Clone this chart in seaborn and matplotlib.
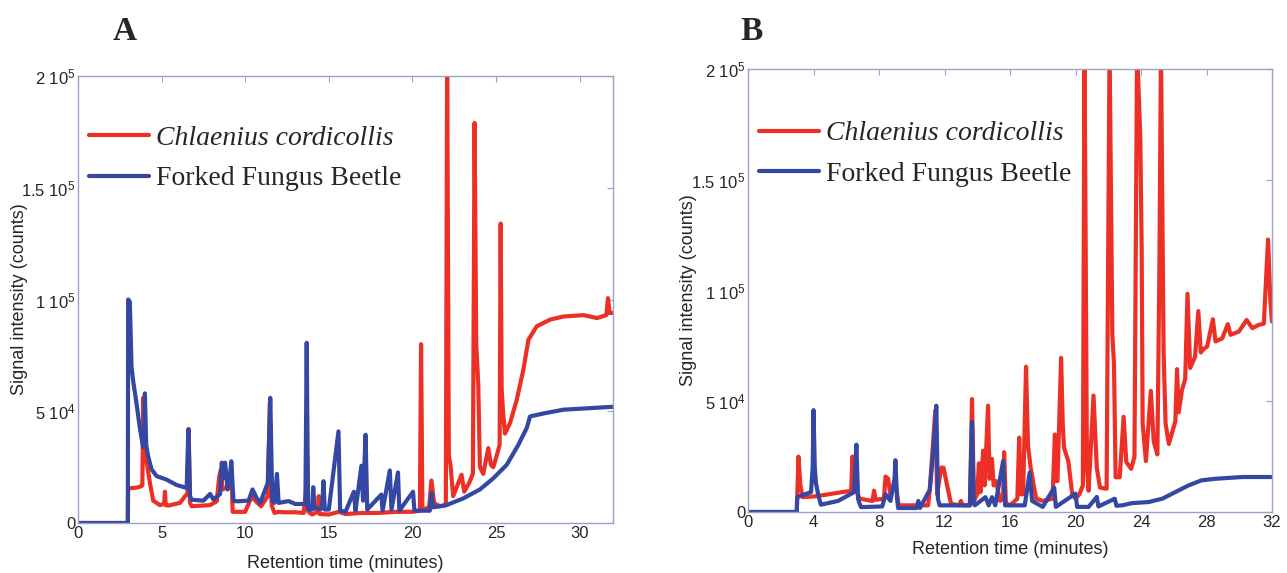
import pandas as pd
import numpy as np
import seaborn as sns
import matplotlib.pyplot as plt

# chromatogram traces (time in minutes, signal in thousands of counts)
a_red_t = [0, 2.98, 3.0, 3.5, 3.8, 3.85, 3.9, 3.95, 4.05, 4.3, 4.5, 4.9, 5.15, 5.2, 5.25, 5.4, 6.1, 6.4, 6.55, 6.62,
           6.7, 6.8, 7.9, 8.3, 8.45, 8.55, 8.65, 8.9, 9.1, 9.17, 9.25, 10.0, 10.1, 10.4, 10.6, 10.95, 11.35, 11.48,
           11.58, 11.75, 12.0, 12.3, 13.0, 13.5, 13.65, 13.7, 13.78, 14.0, 14.35, 14.4, 14.45, 15.0, 15.6, 16.0,
           17.0, 18.0, 19.0, 20.0, 20.45, 20.52, 20.6, 21.0, 21.14, 21.3, 21.64, 22.0, 22.08, 22.18, 22.28, 22.44,
           22.94, 23.1, 23.4, 23.62, 23.72, 23.82, 23.94, 24.04, 24.24, 24.54, 24.7, 24.84, 25.04, 25.22, 25.28,
           25.34, 25.42, 25.54, 25.84, 26.24, 26.64, 26.94, 27.44, 28.24, 29.04, 30.24, 31.04, 31.6, 31.7, 31.8, 32.0]
a_red_y = [0, 0, 15.5, 15.8, 16.5, 17, 56, 35, 30, 18, 10, 8, 8.5, 14, 8, 7.8, 9, 12, 13, 42,
           9, 7.5, 8, 9.7, 21, 24, 15, 16, 20, 25, 5, 5, 6.7, 12, 10, 7.5, 12, 54,
           8, 4.5, 5, 4.8, 4.8, 4.5, 15, 30, 5, 3.8, 5, 12, 4, 3.8, 5, 4,
           4.5, 4.5, 5, 5, 5.5, 80, 6, 7, 19, 9, 7.5, 8, 210, 30, 26, 12,
           21.6, 14, 18, 22, 179, 80, 62, 25, 22, 33.5, 26, 25, 30, 35, 134,
           60, 50, 40, 44.7, 55, 68.6, 82, 88, 91, 92.4, 93, 91.7, 93, 100.6, 94, 94]

a_blue_t = [0, 2.98, 3.0, 3.1, 3.2, 3.29, 3.49, 3.69, 3.89, 3.95, 4.0, 4.08, 4.19, 4.4, 4.7, 5.3, 5.9, 6.5, 6.6,
            6.7, 6.8, 7.5, 7.9, 8.1, 8.5, 8.6, 8.7, 8.8, 8.95, 9.1, 9.17, 9.3, 9.5, 10.2, 10.44, 10.7, 10.9, 11.35,
            11.5, 11.62, 11.75, 11.9, 12.0, 12.6, 13.0, 13.6, 13.68, 13.76, 14.0, 14.07, 14.15, 14.6, 14.68, 14.76,
            15.0, 15.58, 15.68, 16.0, 16.5, 16.6, 16.95, 17.05, 17.2, 17.3, 18.14, 18.22, 18.65, 18.75, 19.14, 19.22,
            20.04, 20.12, 21.04, 21.14, 21.25, 22.04, 23.04, 24.04, 24.84, 25.64, 26.34, 26.84, 27.04, 27.84,
            29.04, 30.64, 32.0]
a_blue_y = [0, 0, 100, 99, 70, 64, 54, 43, 34, 40, 58, 35, 30, 24, 21, 19.4, 17, 15.7, 42,
            12, 10.4, 10, 13, 10.5, 13, 27, 20, 27, 15, 22, 27.6, 10, 9.7, 10, 15, 11, 9, 18,
            56, 10, 9, 22, 9, 9.8, 8.5, 8.5, 80.6, 6, 6, 16, 6.5, 6.5, 18.7, 6,
            6, 41, 5.5, 5, 14, 5.5, 25.6, 10, 39.5, 6, 12.7, 5.5, 23.5, 6, 22.6, 5.5,
            14, 5.5, 5.5, 13.4, 7, 8, 11, 15, 20, 26, 35, 42.5, 47.7, 49,
            50.7, 51.4, 52]

b_red_t = [0, 2.98, 3.02, 3.08, 3.2, 3.34, 4.0, 4.4, 5.77, 6.3, 6.38, 6.48, 6.6, 6.7, 6.82, 7.6, 7.7, 7.8, 8.3,
           8.4, 8.56, 8.7, 9.0, 9.2, 11.0, 11.1, 11.44, 11.55, 11.8, 11.94, 12.16, 12.4, 12.9, 13.0, 13.1, 13.55,
           13.68, 13.8, 14.0, 14.1, 14.2, 14.36, 14.45, 14.66, 14.75, 14.9, 15.0, 15.14, 15.4, 15.58, 15.64, 15.75,
           16.0, 16.45, 16.56, 16.68, 16.8, 16.98, 17.1, 17.26, 17.6, 18.0, 18.6, 18.74, 18.85, 18.9, 19.12, 19.22,
           19.3, 19.56, 19.8, 20.0, 20.24, 20.45, 20.55, 20.7, 20.8, 21.1, 21.3, 21.5, 21.9, 22.08, 22.25, 22.35,
           22.45, 22.7, 22.94, 23.1, 23.4, 23.6, 23.76, 23.96, 24.04, 24.1, 24.3, 24.6, 24.78, 25.0, 25.12, 25.22,
           25.38, 25.5, 25.7, 26.1, 26.2, 26.3, 26.5, 26.7, 26.84, 27.0, 27.3, 27.5, 27.65, 27.8, 28.04, 28.39,
           28.55, 28.96, 29.3, 29.47, 29.98, 30.45, 30.8, 31.2, 31.5, 31.76, 31.9, 32.0]
b_red_y = [0, 0, 10, 25, 12, 6.7, 7, 7.4, 9, 9.5, 25, 13, 20, 8, 6, 5, 9.6, 5.5, 6,
           16, 15, 7.4, 14, 3, 3, 10, 46, 8, 20, 20, 12, 3.7, 3, 5, 3, 3,
           51, 5, 8, 22, 9, 27.7, 12, 48, 15, 24, 12, 14, 5, 6, 27, 4,
           3, 6, 33.6, 8, 8, 65.6, 30, 20, 6, 5, 6, 35, 14, 14, 69.6, 40,
           29, 23, 8, 6, 8, 12, 210, 20, 9.6, 52.6, 20, 11, 10.5, 210, 80, 67,
           15.7, 15.7, 43, 22.6, 19.5, 25, 210, 168, 119, 40, 23, 54.7, 31.7, 26, 108, 210,
           72, 40, 30.7, 41, 64.5, 45, 55, 60, 98.5, 65, 70, 90.7, 72, 73.5, 74.7, 87,
           77, 78.4, 84.8, 80, 81.5, 86.7, 83, 84.5, 85, 123, 95, 86]

b_blue_t = [0, 2.98, 3.0, 3.85, 3.95, 4.0, 4.08, 4.15, 4.3, 4.45, 5.5, 6.17, 6.48, 6.62, 6.72, 6.78, 6.9, 8.2,
            8.4, 8.7, 8.95, 9.0, 9.1, 9.17, 10.3, 10.4, 10.5, 11.1, 11.35, 11.5, 11.6, 11.7, 12.4, 13.55, 13.68,
            13.78, 13.85, 14.5, 14.7, 14.9, 15.1, 15.58, 15.7, 16.9, 17.2, 17.35, 18.0, 18.7, 18.8, 20.0, 20.1,
            20.8, 21.3, 21.4, 22.4, 22.5, 22.84, 23.45, 24.47, 25.3, 26.1, 26.9, 27.7, 28.55, 30.2, 32.0]
b_blue_y = [0, 0, 6.7, 9, 20, 46, 20, 13, 7.4, 3.3, 5, 7.7, 9, 30.4, 6, 4.5, 2.2, 2.5,
            8, 5, 15, 23.4, 6, 1.8, 1.8, 5, 1.8, 10, 30, 48, 6, 3, 3, 3, 40.7,
            4, 3, 6.7, 3, 6.7, 3, 23, 3, 3, 17.8, 5, 2.3, 11, 2.3, 8.3, 2.3,
            2.3, 6.8, 2.5, 6, 2.8, 3, 4, 4.5, 6, 9, 12, 14.3, 15, 15.8, 15.8]

species = ['Chlaenius cordicollis', 'Forked Fungus Beetle']
ytick_vals = [0, 50, 100, 150, 200]
ytick_labels = ['0', r'5 10$^{4}$', r'1 10$^{5}$', r'1.5 10$^{5}$', r'2 10$^{5}$']

sns.set_style('white')
plt.rcParams['font.family'] = ['Liberation Sans', 'DejaVu Sans']
plt.rcParams['mathtext.fontset'] = 'custom'
plt.rcParams['mathtext.rm'] = 'Liberation Sans'
plt.rcParams['mathtext.it'] = 'Liberation Sans:italic'

red = '#ec3025'
blue = '#3447a3'
frame = '#97a3c8'

fig = plt.figure(figsize=(12.87, 5.73), dpi=100)
axA = fig.add_axes([78/1287, 50/573, 535/1287, 447/573])
axB = fig.add_axes([748/1287, 61/573, 524/1287, 443/573])

panels = [
    (axA, a_red_t, a_red_y, a_blue_t, a_blue_y, range(0, 31, 5), 'A', 113, 0.915, -0.093, 10),
    (axB, b_red_t, b_red_y, b_blue_t, b_blue_y, range(0, 33, 4), 'B', 740, 0.908, -0.097, 8),
]

for ax, rt, ry, bt, by, xt, letter, lx, legy, ylx, xpad in panels:
    sns.lineplot(x=rt, y=ry, ax=ax, color=red, lw=3.0, estimator=None, sort=False, label=species[0])
    sns.lineplot(x=bt, y=by, ax=ax, color=blue, lw=3.0, estimator=None, sort=False, label=species[1])
    ax.set_xlim(0, 32)
    ax.set_ylim(0, 200)
    ax.set_xticks(list(xt))
    ax.set_yticks(ytick_vals)
    ax.set_yticklabels(ytick_labels)
    ax.tick_params(direction='in', length=4, color=frame, top=True, right=True, labelsize=12, pad=2)
    for s in ax.spines.values():
        s.set_color(frame)
        s.set_linewidth(1)
    ax.set_xlabel('Retention time (minutes)', fontsize=13, labelpad=xpad)
    ax.set_ylabel('Signal intensity (counts)', fontsize=13)
    ax.yaxis.set_label_coords(ylx, 0.5)
    leg = ax.legend(loc='upper left', bbox_to_anchor=(0.0, legy), frameon=False,
                    prop={'family': 'Liberation Serif', 'size': 20},
                    handlelength=2.15, handletextpad=0.25, labelspacing=0.55, borderaxespad=0.0)
    leg.get_texts()[0].set_style('italic')
    for h in leg.get_lines():
        h.set_linewidth(3.0)
    fig.text(lx/1287, 1 - 32/573, letter, fontsize=24, fontweight='bold', family='Liberation Serif', va='center')

plt.savefig('out.png', dpi=100)
